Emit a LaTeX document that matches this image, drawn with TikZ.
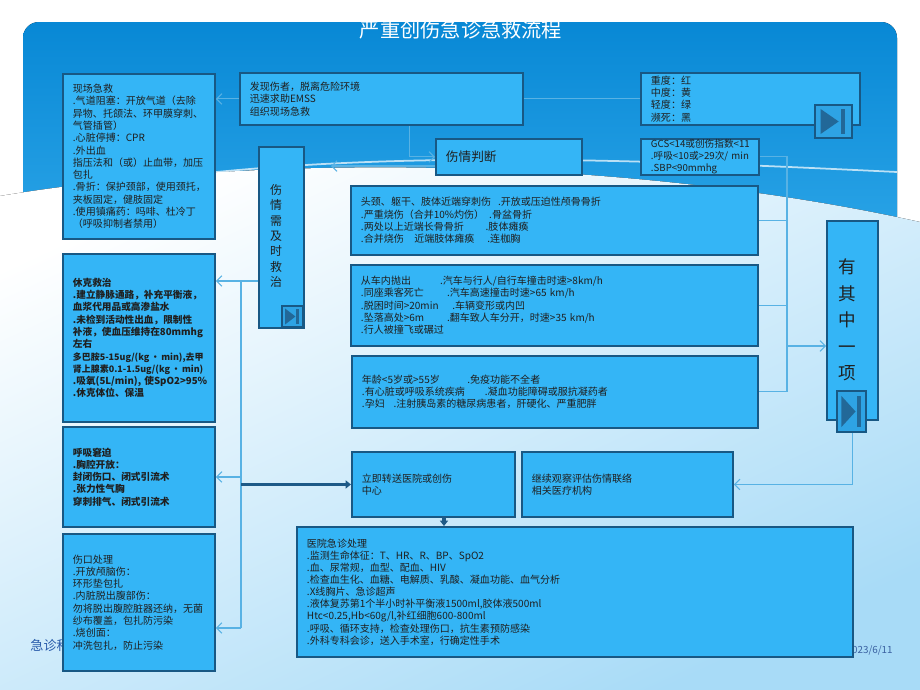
\documentclass[tikz,border=0pt]{standalone}
\usepackage{fontspec}
\setmainfont{Noto Sans CJK SC}
\usepackage{xcolor}
\usepackage{tikz}
\usetikzlibrary{arrows.meta, calc}

\definecolor{PanelTop}{RGB}{8,136,213}
\definecolor{PanelLow}{RGB}{52,172,236}
\definecolor{WaveLow}{RGB}{168,219,247}
\definecolor{BoxFill}{RGB}{52,181,246}
\definecolor{BoxLine}{RGB}{24,88,132}
\definecolor{LinkBlue}{RGB}{88,178,228}
\definecolor{FlowDark}{RGB}{30,90,135}
\definecolor{IconFill}{RGB}{46,163,228}
\definecolor{IconDark}{RGB}{34,104,152}
\definecolor{FootBlue}{RGB}{40,90,170}

% fixed first column inside a box line
\newcommand{\cola}[2]{\makebox[#1][l]{#2}}
% one line in a smaller size
\newcommand{\tightline}[1]{\mbox{\fontsize{5.1pt}{7pt}\selectfont #1}}
% "play to end" button: left, top, width, height (px)
\newcommand{\navbtn}[4]{%
  \begin{scope}[shift={(#1,#2)}, xscale=#3/100, yscale=#4/100]
    \draw[draw=BoxLine, fill=IconFill, line width=1pt] (0,0) rectangle (100,100);
    \fill[IconDark] (15,12) -- (15,88) -- (64,50) -- cycle;
    \fill[IconDark] (69,12) rectangle (82,88);
  \end{scope}}

\begin{document}
\begin{tikzpicture}[x=0.02cm, y=-0.02cm,
  box/.style={draw=BoxLine, fill=BoxFill, line width=1.1pt, rectangle, anchor=north west,
    inner xsep=0.2cm, inner ysep=0pt, align=left, text=black!88,
    font=\fontsize{5.7pt}{7pt}\selectfont},
  sz/.code 2 args={\pgfmathsetmacro\bw{#1*0.02}\pgfmathsetmacro\bh{#2*0.02}%
    \pgfmathsetmacro\tw{#1*0.02-0.4}%
    \edef\tmpsz{\noexpand\tikzset{minimum width=\bw cm, minimum height=\bh cm, text width=\tw cm}}\tmpsz},
  vtext/.style={align=center, text=black!88, inner sep=0pt},
  link/.style={draw=LinkBlue, line width=0.6pt, -{Straight Barb[length=3pt,width=6pt]}},
  wire/.style={draw=LinkBlue, line width=0.6pt},
  flow/.style={draw=FlowDark, line width=1.8pt, -{Triangle[length=3pt,width=4.5pt]}},
]

\useasboundingbox (0,0) rectangle (920,690);

% background
\fill[white] (0,0) rectangle (920,690);
\fill[top color=PanelTop, bottom color=PanelLow, rounded corners=9pt] (23,22) rectangle (897,300);
\fill[top color=white, bottom color=WaveLow, shading angle=25]
  (0,196) .. controls (280,150) and (640,160) .. (920,222) -- (920,690) -- (0,690) -- cycle;
\draw[white, opacity=0.7, line width=1pt] (180,176) .. controls (400,150) and (650,160) .. (897,172);

\node[font=\fontsize{11.5pt}{12pt}\selectfont, text=white] (title) at (461,30) {严重创伤急诊急救流程};
\node[anchor=west, font=\fontsize{7.5pt}{8pt}\selectfont, text=FootBlue, inner sep=0pt] (footer) at (30,645) {急诊科};
\node[anchor=east, font=\fontsize{5.6pt}{6pt}\selectfont, text=FootBlue!80!gray, inner sep=0pt] (date) at (893,650) {2023/6/11};

% boxes
\node[box, sz={152}{165}] (scene) at (62,73) {现场急救\\.气道阻塞：开放气道（去除\\异物、托颌法、环甲膜穿刺、\\气管插管）\\.心脏停搏：CPR\\.外出血\\指压法和（或）止血带，加压\\包扎\\.骨折：保护颈部，使用颈托，\\夹板固定，健肢固定\\.使用镇痛药：吗啡、杜冷丁\\（呼吸抑制者禁用）};
\node[box, sz={283}{52}] (found) at (239,72) {发现伤者，脱离危险环境\\迅速求助EMSS\\组织现场急救};
\node[box, sz={219}{52}] (grade) at (640,72) {重度：红\\中度：黄\\轻度：绿\\濒死：黑};
\node[box, sz={118}{36}, font=\fontsize{5.5pt}{6.8pt}\selectfont] (gcs) at (640,138) {GCS<14或创伤指数<11\\.呼吸<10或>29次/~min\\.SBP<90mmhg};
\node[box, sz={146}{36}, font=\fontsize{7.2pt}{9pt}\selectfont] (judge) at (435,138) {伤情判断};
\node[box, sz={45}{181}] (treat) at (258,146) {};
\node[vtext, font=\fontsize{6.8pt}{8.7pt}\selectfont] (treatlbl) at (276,236) {伤\\情\\需\\及\\时\\救\\治};

\node[box, sz={407}{69}] (anatomy) at (350,185) {\cola{78pt}{头颈、躯干、肢体近端穿刺伤}.开放或压迫性颅骨骨折\\\cola{73pt}{.严重烧伤（合并10\%灼伤）}.骨盆骨折\\\cola{71pt}{.两处以上近端长骨骨折}.肢体瘫痪\\\cola{72pt}{.合并烧伤\hspace{6pt}近端肢体瘫痪}.连枷胸};
\node[box, sz={407}{81}] (mech) at (350,264) {\cola{45pt}{从车内抛出}.汽车与行人/自行车撞击时速>8km/h\\\cola{49pt}{.同座乘客死亡}.汽车高速撞击时速>65~km/h\\\cola{52pt}{.脱困时间>20min}.车辆变形或内凹\\\cola{49pt}{.坠落高处>6m}.翻车致人车分开，时速>35~km/h\\.行人被撞飞或碾过};
\node[box, sz={406}{72}] (risk) at (351,355) {\cola{60pt}{年龄<5岁或>55岁}.免疫功能不全者\\\cola{70pt}{.有心脏或呼吸系统疾病}.凝血功能障碍或服抗凝药者\\\cola{18pt}{.孕妇}.注射胰岛素的糖尿病患者，肝硬化、严重肥胖};
\node[box, sz={163}{65}] (transfer) at (351,451) {立即转送医院或创伤\\中心};
\node[box, sz={211}{65}] (observe) at (521,451) {继续观察评估伤情联络\\相关医疗机构};
\node[box, sz={51}{199}] (anyone) at (826,220) {};
\node[vtext, font=\fontsize{10pt}{15pt}\selectfont] (anyonelbl) at (847,320) {有\\其\\中\\一\\项};

\node[box, sz={152}{168}, font=\fontsize{5.5pt}{7pt}\selectfont\bfseries] (shock) at (62,253) {休克救治\\.建立静脉通路，补充平衡液，\\血浆代用品或高渗盐水\\.未检到活动性出血，限制性\\\mbox{补液，使血压维持在80mmhg}\\左右\\\tightline{多巴胺5-15ug/(kg\,·\,min),去甲}\\\tightline{肾上腺素0.1-1.5ug/(kg\,·\,min)}\\\mbox{.吸氧(5L/min),~使SpO2>95\%}\\.休克体位、保温};
\node[box, sz={152}{100}, font=\fontsize{5.5pt}{7pt}\selectfont\bfseries] (breath) at (62,426) {呼吸窘迫\\.胸腔开放：\\封闭伤口、闭式引流术\\.张力性气胸\\穿刺排气、闭式引流术};
\node[box, sz={152}{137}] (wound) at (62,533) {伤口处理\\.开放颅脑伤：\\环形垫包扎\\.内脏脱出腹部伤：\\勿将脱出腹腔脏器还纳，无菌\\纱布覆盖，包扎防污染\\.烧创面：\\冲洗包扎，防止污染};
\node[box, sz={556}{130}, font=\fontsize{5.7pt}{6.9pt}\selectfont] (hosp) at (296,526) {医院急诊处理\\.监测生命体征：T、HR、R、BP、SpO2\\.血、尿常规，血型、配血、HIV\\.检查血生化、血糖、电解质、乳酸、凝血功能、血气分析\\.X线胸片、急诊超声\\\mbox{.液体复苏第1个半小时补平衡液1500ml,胶体液500ml}\\\mbox{Htc<0.25,Hb<60g/l,补红细胞600-800ml}\\.呼吸、循环支持，检查处理伤口，抗生素预防感染\\.外科专科会诊，送入手术室，行确定性手术};

% connectors
\draw[link] (found.west) -- (found.west -| scene.east);
\draw[wire] (found.east) -- (grade.west);
\draw[link] ([xshift=0.57cm]found.south) |- (judge.west);
\coordinate (judgetip) at (331,166);
\draw[link] (judge.west |- judgetip) -- (judgetip);

\coordinate (busTop) at (241,281);
\coordinate (busEnd) at (241,628);
\draw[link] (treat.west |- busTop) -- (busTop -| shock.east);
\draw[wire] (busTop) -- (busEnd);
\draw[link] (busTop |- breath.east) -- (breath.east);
\draw[link] (busEnd) -- (busEnd -| wound.east);
\draw[flow] (busTop |- transfer.west) -- (transfer.west);
\coordinate (toHosp) at (444,516);
\draw[flow] (toHosp) -- (toHosp |- hosp.north);

\coordinate (brk) at (787,346);
\draw[wire] (gcs.east) -- (gcs.east -| brk) -- (risk.east -| brk) -- (risk.east);
\draw[wire] (anatomy.east) -- (anatomy.east -| brk);
\draw[wire] (mech.east) -- (mech.east -| brk);
\draw[link] (brk) -- (brk -| anyone.west);
\draw[link] (anyone.south) |- (observe.east);

% buttons
\navbtn{282}{306}{21}{21}
\navbtn{815}{105}{37}{33}
\navbtn{837}{391}{29}{41}

\end{tikzpicture}
\end{document}
